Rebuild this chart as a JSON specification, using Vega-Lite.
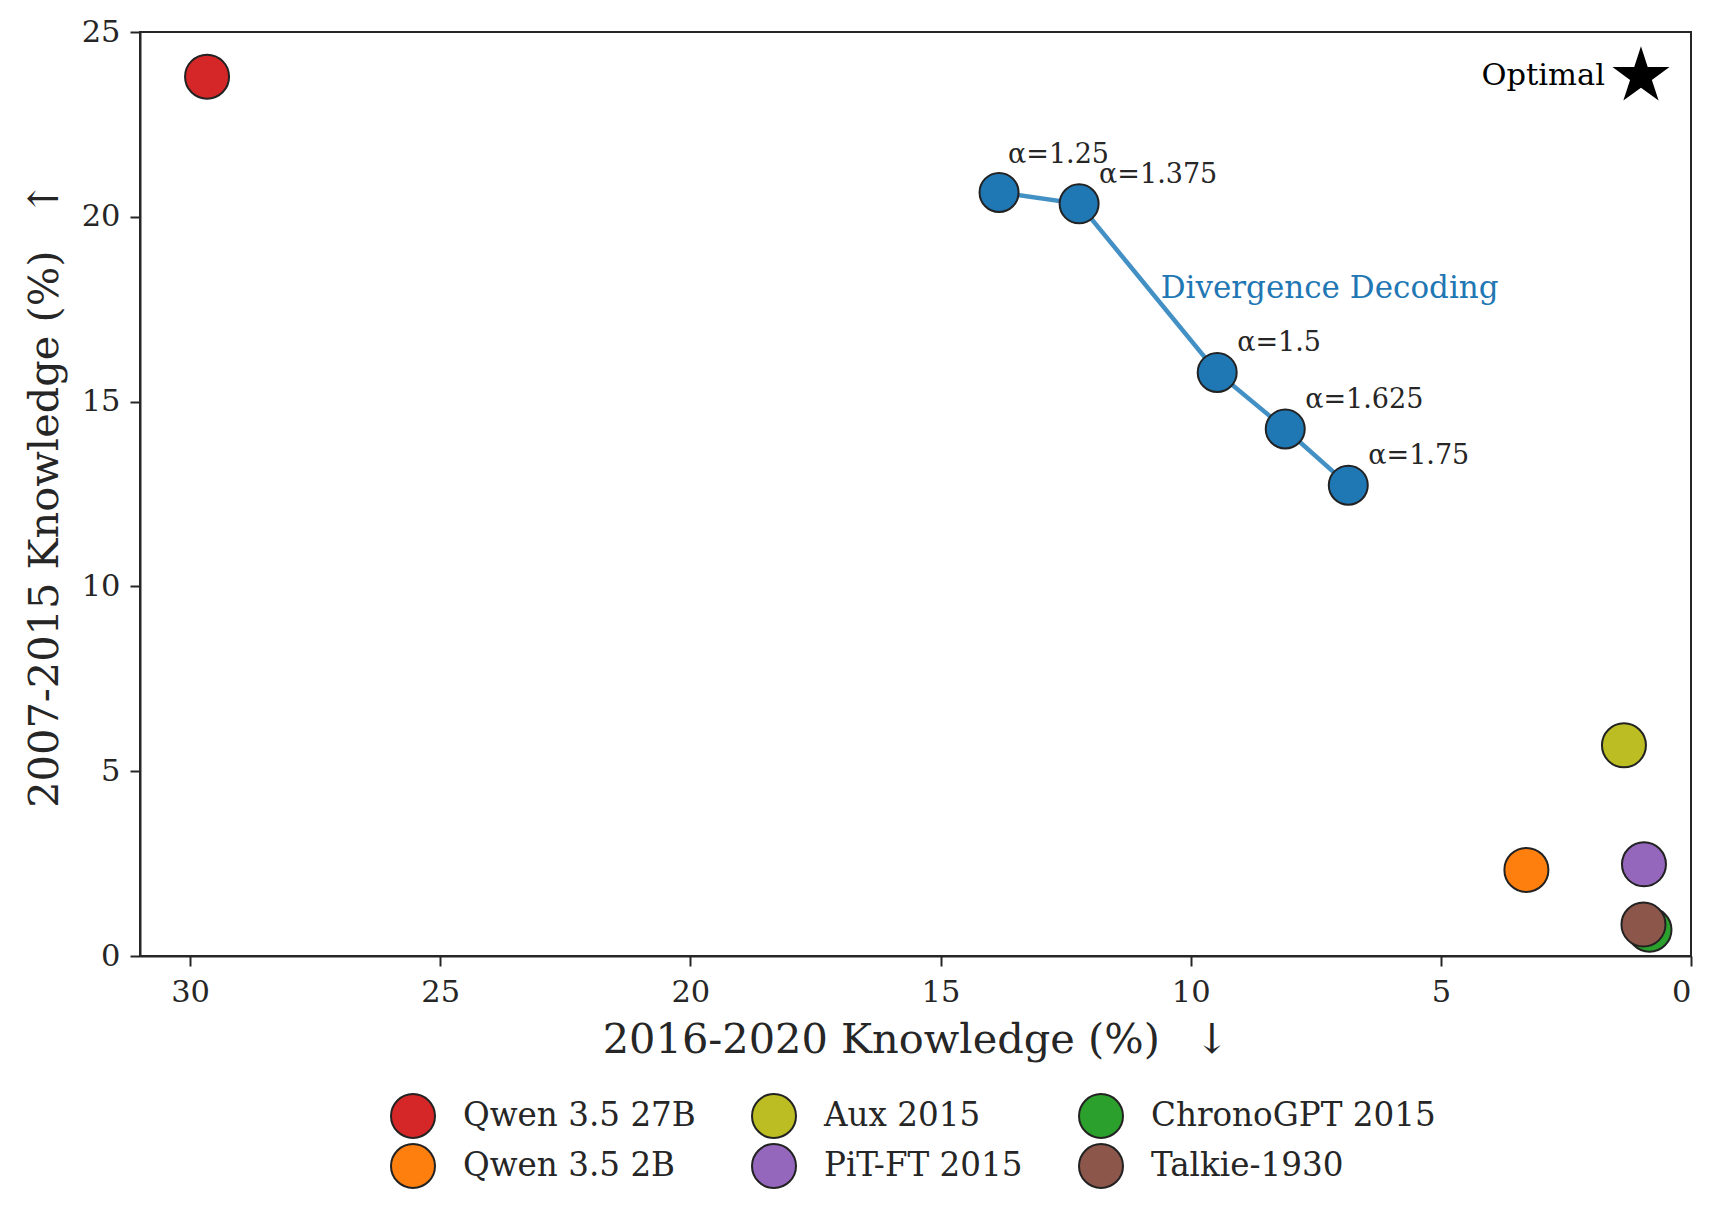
{
  "$schema": "https://vega.github.io/schema/vega-lite/v6.json",
  "width": 1551,
  "height": 924,
  "autosize": {"type": "none"},
  "padding": {"left": 140, "top": 32, "right": 34, "bottom": 258},
  "background": "white",
  "config": {
    "font": "DejaVu Serif",
    "view": {"stroke": "#262626", "strokeWidth": 2},
    "axis": {
      "grid": false,
      "domainColor": "#262626",
      "domainWidth": 2,
      "tickColor": "#262626",
      "tickWidth": 2,
      "tickSize": 10,
      "labelFont": "DejaVu Serif",
      "labelFontSize": 30.5,
      "labelColor": "#262626",
      "titleFont": "DejaVu Serif",
      "titleFontSize": 41.5,
      "titleFontWeight": "normal",
      "titleColor": "#262626"
    }
  },
  "datasets": {
    "dd": [
      {"x": 13.83, "y": 20.66, "label": "α=1.25"},
      {"x": 12.23, "y": 20.35, "label": "α=1.375"},
      {"x": 9.47, "y": 15.79, "label": "α=1.5"},
      {"x": 8.11, "y": 14.26, "label": "α=1.625"},
      {"x": 6.85, "y": 12.74, "label": "α=1.75"}
    ],
    "models": [
      {"model": "Qwen 3.5 27B", "x": 29.66, "y": 23.79},
      {"model": "Qwen 3.5 2B", "x": 3.29, "y": 2.33},
      {"model": "Aux 2015", "x": 1.34, "y": 5.70},
      {"model": "PiT-FT 2015", "x": 0.94, "y": 2.48},
      {"model": "ChronoGPT 2015", "x": 0.83, "y": 0.71},
      {"model": "Talkie-1930", "x": 0.95, "y": 0.85}
    ],
    "optimal": [{"x": 1.0, "y": 23.8, "label": "Optimal"}],
    "ddlabel": [{"x": 10.6, "y": 18.06, "label": "Divergence Decoding"}]
  },
  "encoding": {
    "x": {
      "field": "x",
      "type": "quantitative",
      "scale": {"domain": [0, 31], "reverse": true, "nice": false, "zero": false},
      "axis": {
        "values": [0, 5, 10, 15, 20, 25, 30],
        "title": "2016-2020 Knowledge (%)\u00a0\u00a0\u2009↓",
        "labelPadding": 11,
        "titlePadding": 12
      }
    },
    "y": {
      "field": "y",
      "type": "quantitative",
      "scale": {"domain": [0, 25], "nice": false, "zero": false},
      "axis": {
        "values": [0, 5, 10, 15, 20, 25],
        "title": "2007-2015 Knowledge (%)\u00a0\u00a0\u2009↑",
        "labelPadding": 10,
        "titlePadding": 15
      }
    }
  },
  "layer": [
    {
      "data": {"name": "dd"},
      "mark": {"type": "line", "color": "#2f84bf", "strokeWidth": 4.5, "opacity": 0.9},
      "encoding": {}
    },
    {
      "data": {"name": "dd"},
      "mark": {"type": "point", "shape": "circle", "filled": true, "size": 1521, "fill": "#1f77b4", "stroke": "#222222", "strokeWidth": 2, "opacity": 1},
      "encoding": {}
    },
    {
      "data": {"name": "models"},
      "mark": {"type": "point", "shape": "circle", "filled": true, "size": 1936, "stroke": "#222222", "strokeWidth": 2, "opacity": 1},
      "encoding": {
        "fill": {
          "field": "model",
          "type": "nominal",
          "scale": {
            "domain": ["Qwen 3.5 27B", "Aux 2015", "ChronoGPT 2015", "Qwen 3.5 2B", "PiT-FT 2015", "Talkie-1930"],
            "range": ["#d62728", "#bcbd22", "#2ca02c", "#ff7f0e", "#9467bd", "#8c564b"]
          },
          "legend": {
            "title": null,
            "orient": "none",
            "legendX": 250,
            "legendY": 1061,
            "direction": "horizontal",
            "columns": 3,
            "columnPadding": 52,
            "rowPadding": -2,
            "symbolType": "circle",
            "symbolSize": 1936,
            "symbolStrokeColor": "#222222",
            "symbolStrokeWidth": 2,
            "symbolOpacity": 1,
            "labelFont": "DejaVu Serif",
            "labelFontSize": 32.6,
            "labelColor": "#262626",
            "labelOffset": 27,
            "labelLimit": 0
          }
        }
      }
    },
    {
      "data": {"name": "optimal"},
      "mark": {"type": "point", "shape": "M0,-1L0.2245,-0.309L0.9511,-0.309L0.3633,0.118L0.5878,0.809L0,0.382L-0.5878,0.809L-0.3633,0.118L-0.9511,-0.309L-0.2245,-0.309Z", "filled": true, "size": 3600, "fill": "black", "opacity": 1},
      "encoding": {}
    },
    {
      "data": {"name": "optimal"},
      "mark": {"type": "text", "align": "right", "baseline": "middle", "dx": -36, "fontSize": 30.5, "color": "black"},
      "encoding": {"text": {"field": "label"}}
    },
    {
      "data": {"name": "dd"},
      "transform": [{"filter": "datum.label === 'α=1.25'"}],
      "mark": {"type": "text", "align": "left", "baseline": "middle", "dx": 9, "dy": -37, "fontSize": 27, "color": "#262626"},
      "encoding": {"text": {"field": "label"}}
    },
    {
      "data": {"name": "dd"},
      "transform": [{"filter": "datum.label !== 'α=1.25'"}],
      "mark": {"type": "text", "align": "left", "baseline": "middle", "dx": 20, "dy": -29, "fontSize": 27, "color": "#262626"},
      "encoding": {"text": {"field": "label"}}
    },
    {
      "data": {"name": "ddlabel"},
      "mark": {"type": "text", "align": "left", "baseline": "middle", "fontSize": 31, "color": "#1f77b4"},
      "encoding": {"text": {"field": "label"}}
    }
  ]
}
